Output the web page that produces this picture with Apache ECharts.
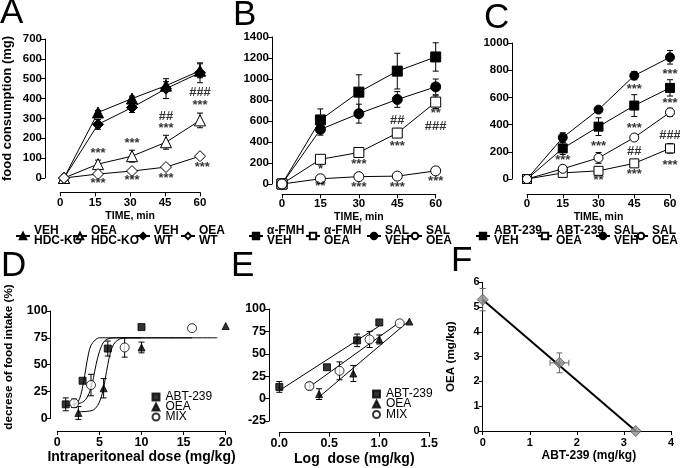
<!DOCTYPE html>
<html><head><meta charset="utf-8">
<script src="https://cdn.jsdelivr.net/npm/echarts@6/dist/echarts.min.js"></script>
<style>html,body{margin:0;padding:0;background:#fff}#c{width:680px;height:468px}</style>
</head><body><div id="c"></div>
<script>
// ---------- DATA ----------
const timeTicks = [0, 15, 30, 45, 60];
// Panel A
const A_vehKO = [0, 330, 400, 465, 540];      const A_vehKO_err = [0, 10, 12, 20, 35];
const A_oeaKO = [0, 70, 110, 180, 290];       const A_oeaKO_err = [0, 20, 30, 35, 37];
const A_vehWT = [0, 270, 355, 450, 530];      const A_vehWT_err = [0, 25, 25, 50, 50];
const A_oeaWT = [0, 20, 35, 55, 110];         const A_oeaWT_err = [0, 5, 5, 6, 8];
const A_notes = [[15,122,'***'],[30,172,'***'],[45,251,'***'],[45,312,'##'],[60,365,'***'],[60,430,'###'],
                 [15,-25,'***'],[30,-12,'***'],[45,-2,'***'],[61,55,'***']];
// Panel B
const B_fmhVeh = [0, 610, 875, 1075, 1210];   const B_fmhVeh_err = [0, 105, 165, 170, 135];
const B_fmhOea = [0, 235, 300, 485, 780];     const B_fmhOea_err = [0, 20, 30, 40, 60];
const B_salVeh = [0, 520, 670, 805, 925];     const B_salVeh_err = [0, 55, 90, 75, 75];
const B_salOea = [0, 50, 70, 75, 125];        const B_salOea_err = [0, 10, 10, 10, 10];
const B_notes = [[15,140,'*'],[15,-25,'**'],[30,188,'***'],[30,-30,'***'],[45,604,'##'],[45,362,'***'],
                 [45,-30,'***'],[60,674,'**'],[60,547,'###'],[60,20,'***']];
// Panel C
const C_abtVeh = [0, 225, 385, 540, 670];     const C_abtVeh_err = [0, 45, 65, 80, 60];
const C_abtOea = [0, 45, 60, 115, 225];       const C_abtOea_err = [0, 15, 20, 20, 35];
const C_salVeh = [0, 305, 510, 760, 895];     const C_salVeh_err = [0, 35, 10, 30, 50];
const C_salOea = [0, 75, 155, 305, 490];      const C_salOea_err = [0, 25, 40, 20, 30];
const C_notes = [[15,133,'***'],[30,238,'***'],[30,-7,'**'],[45,662,'***'],[45,373,'***'],[45,201,'##'],
                 [45,37,'***'],[60,771,'***'],[60,557,'***'],[60,324,'###'],[60,103,'***']];
// Panel D (dose, % decrease)
const D_abtDose = [1, 3, 6, 10];      const D_abtVal = [13, 35, 65, 85];  const D_abtErr = [6, 0, 7, 0];
const D_oeaDose = [2.5, 5.5, 10, 20]; const D_oeaVal = [5, 28, 66, 86];   const D_oeaErr = [6, 9, 5, 0];
const D_mixDose = [2, 4, 8, 16];      const D_mixVal = [14, 31, 66, 84];  const D_mixErr = [4, 10, 9, 0];
// fitted curves
const D_abtCurve = [[1,12],[2,13],[2.5,16],[2.8,22],[3.1,33],[3.4,47],[3.7,60],[4,68],[4.5,73],[5,75],[10,75]];
const D_mixCurve = [[2,13],[3,15],[3.5,19],[4,28],[4.3,38],[4.6,50],[5,62],[5.5,71],[6,74],[7,75],[16,75]];
const D_oeaCurve = [[2.5,6],[4,7],[4.5,9],[5,15],[5.4,25],[5.7,37],[6,50],[6.3,61],[6.7,69],[7.2,73],[8,75],[19,75]];
// Panel E (log dose)
const E_abtLog = [0, 0.477, 0.778, 1.0];
const E_oeaLog = [0.398, 0.740, 1.0, 1.301];
const E_mixLog = [0.301, 0.602, 0.903, 1.204];
const E_abtLine = [[0, 9], [1.0, 81]];
const E_mixLine = [[0.3, 13], [1.2, 85]];
const E_oeaLine = [[0.4, 2], [1.3, 87]];
// Panel F (isobologram)
const F_abt = [0, 1.63, 3.25];
const F_oea = [5.3, 2.75, 0];
const F_abtErr = [0, 0.2, 0];
const F_oeaErr = [0.45, 0.4, 0];

// ---------- HELPERS ----------
const NARROW = "'Liberation Sans Narrow','Arial Narrow','Liberation Sans',Arial,sans-serif";
const BLACK = '#000';

function errRender(params, api) {
  const x = api.value(0), y = api.value(1), ex = api.value(2), ey = api.value(3);
  const col = api.value(4) ? '#666' : '#000';
  const ch = [];
  const st = {stroke: col, lineWidth: 1};
  const cap = 3;
  if (ey) {
    const t = api.coord([x, y + ey]), b = api.coord([x, y - ey]);
    ch.push({type:'line', shape:{x1:t[0],y1:t[1],x2:b[0],y2:b[1]}, style:st});
    ch.push({type:'line', shape:{x1:t[0]-cap,y1:t[1],x2:t[0]+cap,y2:t[1]}, style:st});
    ch.push({type:'line', shape:{x1:b[0]-cap,y1:b[1],x2:b[0]+cap,y2:b[1]}, style:st});
  }
  if (ex) {
    const l = api.coord([x - ex, y]), r = api.coord([x + ex, y]);
    ch.push({type:'line', shape:{x1:l[0],y1:l[1],x2:r[0],y2:r[1]}, style:st});
    ch.push({type:'line', shape:{x1:l[0],y1:l[1]-cap,x2:l[0],y2:l[1]+cap}, style:st});
    ch.push({type:'line', shape:{x1:r[0],y1:r[1]-cap,x2:r[0],y2:r[1]+cap}, style:st});
  }
  return {type:'group', children: ch};
}
function errSeries(idx, xs, ys, eys, exs, gray) {
  return {type:'custom', xAxisIndex: idx, yAxisIndex: idx, renderItem: errRender, clip:false, z:1,
    silent:true, data: xs.map((x,i)=>[x, ys[i], exs ? exs[i] : 0, eys[i], gray ? 1 : 0]),
    encode:{x:0, y:1}};
}
function lineSeries(idx, name, xs, ys, symbol, filled, size) {
  return {type:'line', name, xAxisIndex: idx, yAxisIndex: idx, data: xs.map((x,i)=>[x, ys[i]]),
    symbol, symbolSize: size || 9, showSymbol:true, clip:false, z:3,
    lineStyle:{color:BLACK, width:1}, itemStyle:{color: filled ? BLACK : '#fff', borderColor:BLACK, borderWidth:1},
    emphasis:{disabled:true}};
}
function scatterSeries(idx, name, xs, ys, symbol, filled, size) {
  return {type:'scatter', name, xAxisIndex: idx, yAxisIndex: idx, data: xs.map((x,i)=>[x, ys[i]]),
    symbol, symbolSize: size || 7, clip:false, z:3,
    itemStyle:{color: filled ? BLACK : '#fff', borderColor:BLACK, borderWidth:1}};
}
function curveSeries(idx, pts, smooth) {
  return {type:'line', xAxisIndex: idx, yAxisIndex: idx, data: pts, symbol:'none', smooth: smooth ? 0.35 : false,
    clip:false, z:2, lineStyle:{color:BLACK, width:1}, silent:true};
}
function noteSeries(idx, notes) {
  return {type:'scatter', xAxisIndex: idx, yAxisIndex: idx, data: notes, symbolSize:1, clip:false, z:4,
    itemStyle:{color:'rgba(0,0,0,0)'}, silent:true,
    label:{show:true, position:'inside', formatter: p => p.value[2], color:BLACK,
      fontFamily: NARROW, fontWeight:'bold', fontSize:13}};
}
const tickLbl = (sz) => ({color:BLACK, fontFamily:NARROW, fontWeight:'bold', fontSize: sz || 11.5, formatter: v => String(v)});
// visible x axis (lives in its own thin grid so it can sit below the plot like Prism's detached axes)
function xAx(gi, min, max, interval, name, nameGap, sz, nameSz, margin, extra) {
  return Object.assign({type:'value', gridIndex: gi, position:'bottom', min, max, interval,
    name, nameLocation:'middle', nameGap,
    nameTextStyle:{color:BLACK, fontFamily:NARROW, fontWeight:'bold', fontSize: nameSz},
    axisLine:{show:true, onZero:false, lineStyle:{color:BLACK, width:1}},
    axisTick:{show:true, length:4, lineStyle:{color:BLACK}},
    axisLabel:Object.assign(tickLbl(sz), {margin}), splitLine:{show:false}}, extra || {});
}
function xHidden(gi, min, max) {
  return {type:'value', gridIndex: gi, min, max, show:false, splitLine:{show:false}};
}
function yAx(gi, min, max, interval, offset, sz, extra) {
  return Object.assign({type:'value', gridIndex: gi, position:'left', min, max, interval, offset,
    axisLine:{show:true, onZero:false, lineStyle:{color:BLACK, width:1}},
    axisTick:{show:true, length:4, lineStyle:{color:BLACK}},
    axisLabel:Object.assign(tickLbl(sz), {margin:3}), splitLine:{show:false}}, extra || {});
}
function yHidden(gi) { return {type:'value', gridIndex: gi, show:false, min:0, max:1, splitLine:{show:false}}; }

// legend labels
const LBL = {
  A1:'VEH\nHDC-KO', A2:'OEA\nHDC-KO', A3:'VEH\nWT', A4:'OEA\nWT',
  B1:'α-FMH\nVEH', B2:'α-FMH\nOEA', B3:'SAL\nVEH', B4:'SAL\nOEA',
  C1:'ABT-239\nVEH', C2:'ABT-239\nOEA', C3:'SAL\nVEH', C4:'SAL\nOEA',
  D1:'ABT-239', D2:'OEA', D3:'MIX', E1:'ABT-239', E2:'OEA', E3:'MIX'
};
function legItem(name, left, top) {
  return {data:[name], left, top, padding:0, itemWidth:14, itemHeight:8, itemGap:0, selectedMode:false,
    formatter: n => LBL[n],
    textStyle:{color:BLACK, fontFamily:NARROW, fontWeight:'bold', fontSize:12, lineHeight:10, padding:[0,0,0,-1]}};
}
function legSmall(name, left, top) {
  return {data:[name], left, top, padding:0, itemWidth:7, itemHeight:7, itemGap:0, selectedMode:false,
    formatter: n => LBL[n],
    textStyle:{color:BLACK, fontFamily:NARROW, fontSize:12, lineHeight:10, padding:[0,0,0,1]}};
}

const series = [];
// A (idx 0)
series.push(errSeries(0, timeTicks, A_vehKO, A_vehKO_err), errSeries(0, timeTicks, A_oeaKO, A_oeaKO_err),
  errSeries(0, timeTicks, A_vehWT, A_vehWT_err), errSeries(0, timeTicks, A_oeaWT, A_oeaWT_err));
series.push(lineSeries(0,'A1',timeTicks,A_vehKO,'triangle',true,11), lineSeries(0,'A2',timeTicks,A_oeaKO,'triangle',false,11),
  lineSeries(0,'A3',timeTicks,A_vehWT,'diamond',true,11), lineSeries(0,'A4',timeTicks,A_oeaWT,'diamond',false,11),
  noteSeries(0, A_notes));
// B (idx 1)
series.push(errSeries(1, timeTicks, B_fmhVeh, B_fmhVeh_err), errSeries(1, timeTicks, B_fmhOea, B_fmhOea_err),
  errSeries(1, timeTicks, B_salVeh, B_salVeh_err), errSeries(1, timeTicks, B_salOea, B_salOea_err));
series.push(lineSeries(1,'B1',timeTicks,B_fmhVeh,'rect',true,10), lineSeries(1,'B2',timeTicks,B_fmhOea,'rect',false,10),
  lineSeries(1,'B3',timeTicks,B_salVeh,'circle',true,10), lineSeries(1,'B4',timeTicks,B_salOea,'circle',false,10),
  noteSeries(1, B_notes));
// C (idx 2)
series.push(errSeries(2, timeTicks, C_abtVeh, C_abtVeh_err), errSeries(2, timeTicks, C_abtOea, C_abtOea_err),
  errSeries(2, timeTicks, C_salVeh, C_salVeh_err), errSeries(2, timeTicks, C_salOea, C_salOea_err));
series.push(lineSeries(2,'C1',timeTicks,C_abtVeh,'rect',true,9), lineSeries(2,'C2',timeTicks,C_abtOea,'rect',false,9),
  lineSeries(2,'C3',timeTicks,C_salVeh,'circle',true,9), lineSeries(2,'C4',timeTicks,C_salOea,'circle',false,9),
  noteSeries(2, C_notes));
// D (idx 3)
series.push(curveSeries(3, D_abtCurve, true), curveSeries(3, D_mixCurve, true), curveSeries(3, D_oeaCurve, true));
series.push(errSeries(3, D_abtDose, D_abtVal, D_abtErr), errSeries(3, D_oeaDose, D_oeaVal, D_oeaErr),
  errSeries(3, D_mixDose, D_mixVal, D_mixErr));
series.push(scatterSeries(3,'D1',D_abtDose,D_abtVal,'rect',true,7), scatterSeries(3,'D2',D_oeaDose,D_oeaVal,'triangle',true,7),
  scatterSeries(3,'D3',D_mixDose,D_mixVal,'circle',false,9));
// E (idx 4)
series.push(curveSeries(4, E_abtLine), curveSeries(4, E_mixLine), curveSeries(4, E_oeaLine));
series.push(errSeries(4, E_abtLog, D_abtVal, D_abtErr), errSeries(4, E_oeaLog, D_oeaVal, D_oeaErr),
  errSeries(4, E_mixLog, D_mixVal, D_mixErr));
series.push(scatterSeries(4,'E1',E_abtLog,D_abtVal,'rect',true,7), scatterSeries(4,'E2',E_oeaLog,D_oeaVal,'triangle',true,7),
  scatterSeries(4,'E3',E_mixLog,D_mixVal,'circle',false,9));
// F (idx 5)
series.push({type:'line', xAxisIndex:5, yAxisIndex:5, data:[[F_abt[0],F_oea[0]],[F_abt[2],F_oea[2]]], symbol:'none',
  clip:false, z:2, lineStyle:{color:BLACK, width:2}, silent:true});
series.push(errSeries(5, F_abt, F_oea, F_oeaErr, F_abtErr, true));
series.push({type:'scatter', xAxisIndex:5, yAxisIndex:5, data:F_abt.map((x,i)=>[x,F_oea[i]]), symbol:'diamond',
  symbolSize:11, clip:false, z:3, itemStyle:{color:'#8c8c8c', borderColor:'#555', borderWidth:1}});

const option = {
  animation:false,
  backgroundColor:'#fff',
  grid:[
    // data grids 0..5
    {left:60.3, top:39, width:139.7, height:139},
    {left:282, top:37, width:153.7, height:147},
    {left:527, top:43, width:143, height:136},
    {left:57.3, top:311, width:168.4, height:107.3},
    {left:279.3, top:309, width:150, height:112},
    {left:482.7, top:282.3, width:188.3, height:148.7},
    // axis grids 6..10 (bottom edge = detached x-axis line)
    {left:60.3, top:191.3, width:139.7, height:1},
    {left:282, top:193.3, width:153.7, height:1},
    {left:527, top:193.3, width:143, height:1},
    {left:57.3, top:430, width:168.4, height:1},
    {left:279.3, top:431.7, width:150, height:1}
  ],
  xAxis:[
    xHidden(0,0,60), xHidden(1,0,60), xHidden(2,0,60), xHidden(3,0,20), xHidden(4,0,1.5),
    xAx(5,0,4,1,'ABT-239 (mg/kg)',19,11,12,6,{nameTextStyle:{color:BLACK,fontFamily:NARROW,fontWeight:'bold',fontSize:12,padding:[0,0,0,24]}}),
    xAx(6,0,60,15,'TIME, min',17.5,11.5,10.5,5),
    xAx(7,0,60,15,'TIME, min',16.5,11.5,10.5,4),
    xAx(8,0,60,15,'TIME, min',15,11.5,10.5,4),
    xAx(9,0,20,5,'Intraperitoneal dose (mg/kg)',19,12.5,14,5),
    xAx(10,0,1.5,0.5,'Log  dose (mg/kg)',19,12.5,14,4,{axisLabel:{margin:4, color:BLACK, fontFamily:NARROW, fontWeight:'bold', fontSize:12.5, formatter:v=>v.toFixed(1)}})
  ],
  yAxis:[
    yAx(0,0,700,100,19,11.5,{name:'food consumption (mg)', nameLocation:'middle', nameGap:31,
      nameTextStyle:{color:BLACK,fontFamily:NARROW,fontWeight:'bold',fontSize:13}}),
    yAx(1,0,1400,200,10,11.5),
    yAx(2,0,1000,200,15,11.5),
    yAx(3,0,100,25,6.6,12.5),
    yAx(4,-25,100,25,10.3,12.5),
    yAx(5,0,6,1,0,11,{name:'OEA (mg/kg)', nameLocation:'middle', nameGap:26,
      nameTextStyle:{color:BLACK,fontFamily:NARROW,fontWeight:'bold',fontSize:11.7}}),
    yHidden(6), yHidden(7), yHidden(8), yHidden(9), yHidden(10)
  ],
  legend:[
    legItem('A1',15,225), legItem('A2',72,225), legItem('A3',135,225), legItem('A4',180,225),
    legItem('B1',248,225), legItem('B2',305,225), legItem('B3',366,225), legItem('B4',407,225),
    legItem('C1',475,225), legItem('C2',537,225), legItem('C3',595,225), legItem('C4',633,225),
    legSmall('D1',151.5,391), legSmall('D2',151.5,401), legSmall('D3',151.5,411),
    legSmall('E1',372,388), legSmall('E2',372,398), legSmall('E3',372,408.5)
  ],
  graphic:[
    {type:'text', left:0, top:-4, style:{text:'A', font:"35px 'Liberation Sans',Arial", fill:BLACK}},
    {type:'text', left:233, top:-2, style:{text:'B', font:"35px 'Liberation Sans',Arial", fill:BLACK}},
    {type:'text', left:484, top:1, style:{text:'C', font:"35px 'Liberation Sans',Arial", fill:BLACK}},
    {type:'text', left:1, top:249, style:{text:'D', font:"35px 'Liberation Sans',Arial", fill:BLACK}},
    {type:'text', left:231, top:249, style:{text:'E', font:"35px 'Liberation Sans',Arial", fill:BLACK}},
    {type:'text', left:451, top:244, style:{text:'F', font:"35px 'Liberation Sans',Arial", fill:BLACK}},
    {type:'text', x:9, y:357, rotation:Math.PI/2, style:{text:'decrese of food intake (%)', fill:BLACK,
      font:"bold 11.7px 'Liberation Sans Narrow','Arial Narrow','Liberation Sans',Arial", textAlign:'center', textVerticalAlign:'middle'}}
  ],
  series
};
const chart = echarts.init(document.getElementById('c'), null, {renderer:'canvas'});
chart.setOption(option);
</script></body></html>
